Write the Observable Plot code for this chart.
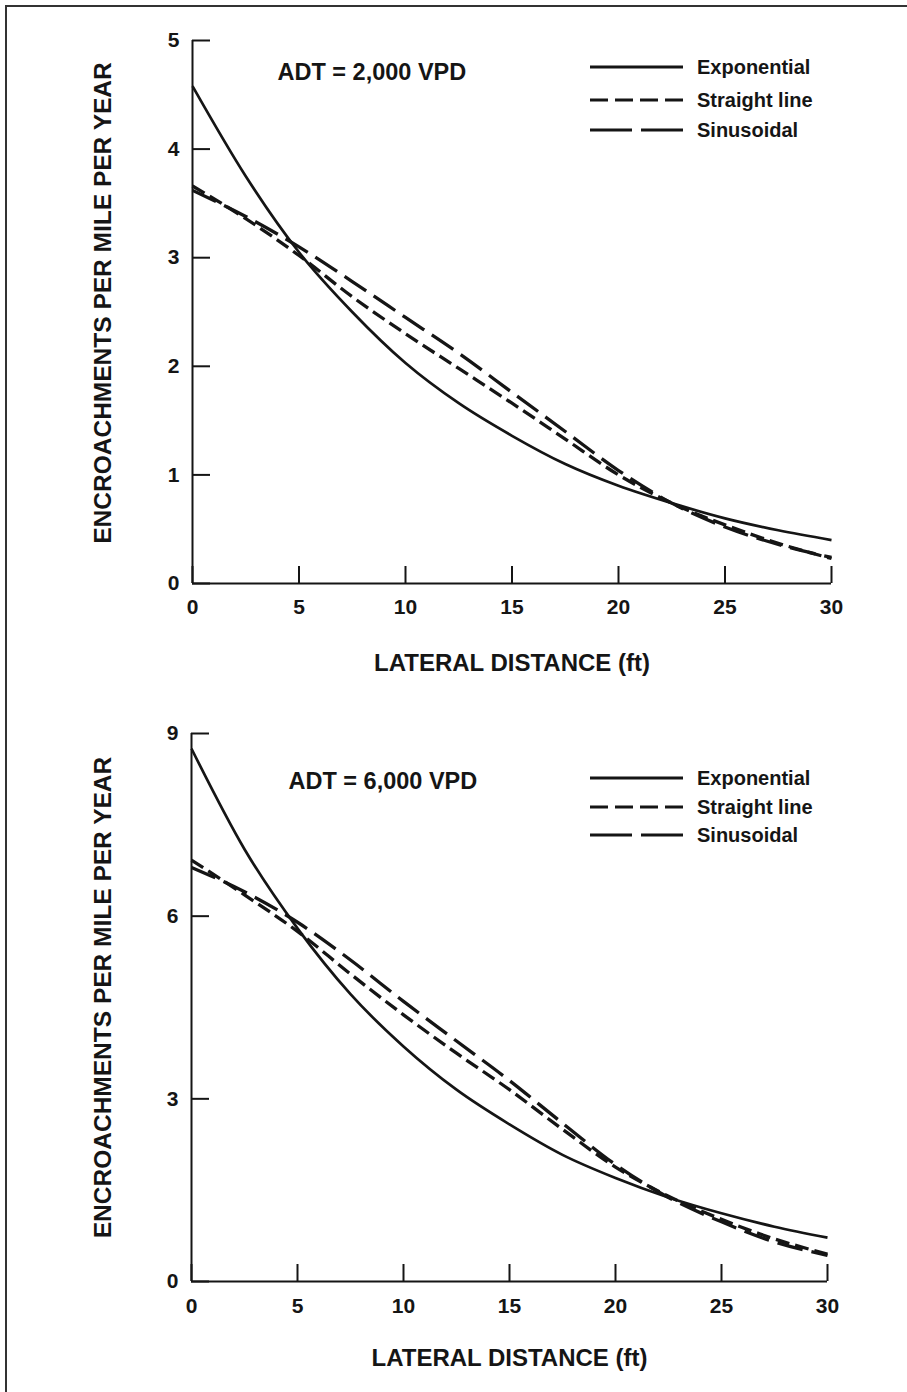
<!DOCTYPE html>
<html><head><meta charset="utf-8">
<script src="https://cdn.jsdelivr.net/npm/d3@7"></script>
<script src="https://cdn.jsdelivr.net/npm/@observablehq/plot@0.6"></script>
<style>
html,body{margin:0;padding:0;background:#fff;overflow:hidden;width:907px;height:1392px;}
#page{position:relative;width:907px;height:1392px;overflow:hidden;background:#fff;font-family:"Liberation Sans",Arial,sans-serif;}
#borderTop{position:absolute;left:5px;top:5px;width:902px;height:2px;background:#333;}
#borderLeft{position:absolute;left:5px;top:5px;width:2px;height:1387px;background:#333;}
.panel{position:absolute;left:0;}
#legend{position:absolute;left:0;top:0;}
</style></head><body><div id="page"><div id="borderTop"></div><div id="borderLeft"></div></div>
<script>
// ---- data ----
const distance = [0, 2.5, 5, 7.5, 10, 12.5, 15, 17.5, 20, 22.5, 25, 27.5, 30];
const seriesNames = ["Exponential", "Straight line", "Sinusoidal"];

const adt2000Exponential = [4.58, 3.75, 3.05, 2.50, 2.03, 1.66, 1.36, 1.10, 0.90, 0.74, 0.60, 0.49, 0.40];
const adt2000Straight    = [3.66, 3.36, 3.02, 2.64, 2.30, 1.98, 1.66, 1.33, 1.00, 0.74, 0.54, 0.37, 0.23];
const adt2000Sinusoidal  = [3.62, 3.38, 3.10, 2.78, 2.45, 2.12, 1.76, 1.40, 1.04, 0.74, 0.52, 0.36, 0.24];

const adt6000Exponential = [8.75, 7.10, 5.80, 4.72, 3.86, 3.15, 2.58, 2.08, 1.70, 1.38, 1.12, 0.90, 0.72];
const adt6000Straight    = [6.92, 6.35, 5.75, 5.05, 4.38, 3.75, 3.15, 2.50, 1.88, 1.40, 1.02, 0.70, 0.45];
const adt6000Sinusoidal  = [6.80, 6.40, 5.90, 5.28, 4.60, 3.95, 3.30, 2.60, 1.92, 1.38, 0.98, 0.65, 0.43];

const xTicks = [0, 5, 10, 15, 20, 25, 30];
const yTicks2000 = [0, 1, 2, 3, 4, 5];
const yTicks6000 = [0, 3, 6, 9];
const panelTitles = ["ADT = 2,000 VPD", "ADT = 6,000 VPD"];
const xLabel = "LATERAL DISTANCE (ft)";
const yLabel = "ENCROACHMENTS PER MILE PER YEAR";

// ---- styles ----
const ink = "#151515";
const FONT = "'Liberation Sans', Arial, Helvetica, sans-serif";
const lineStyle = {
  "Exponential":   {strokeWidth: 2.7, dash: null,   legendDash: null},
  "Straight line": {strokeWidth: 3.3, dash: "14,6", legendDash: "18,7"},
  "Sinusoidal":    {strokeWidth: 3.3, dash: "26,9", legendDash: "42,9"}
};

function makePanel(cfg) {
  const rows = [];
  cfg.values.forEach((vals, i) => vals.forEach((v, j) => rows.push({x: distance[j], v, s: seriesNames[i]})));
  const W = 900;
  const fw = W - cfg.ml - cfg.mr;
  const fh = cfg.height - cfg.mt - cfg.mb;
  const txt = {fontFamily: FONT, fontWeight: "bold", fill: ink};
  return Plot.plot({
    width: W, height: cfg.height,
    marginTop: cfg.mt, marginBottom: cfg.mb, marginLeft: cfg.ml, marginRight: cfg.mr,
    x: {domain: [0, 30]},
    y: {domain: [0, cfg.yMax]},
    style: {fontFamily: FONT, fontWeight: "bold", fontSize: "21px", color: ink, background: "transparent", overflow: "visible"},
    marks: [
      Plot.ruleY([0], {stroke: ink, strokeWidth: 2}),
      Plot.ruleX([0], {stroke: ink, strokeWidth: 2}),
      Plot.tickX(xTicks, {x: d => d, insetTop: fh - 17, stroke: ink, strokeWidth: 2}),
      Plot.tickY(cfg.yTicks, {y: d => d, insetRight: fw - 18, stroke: ink, strokeWidth: 2}),
      Plot.axisX({ticks: xTicks, tickSize: 0, tickPadding: cfg.xPad, tickFormat: d => String(d), label: null, fontSize: 21, ...txt}),
      Plot.axisY({ticks: cfg.yTicks, tickSize: 0, tickPadding: 13, tickFormat: d => String(d), label: null, fontSize: 21, ...txt}),
      ...seriesNames.map(s => Plot.line(rows.filter(r => r.s === s), {
        x: "x", y: "v", curve: "monotone-x", stroke: ink,
        strokeWidth: lineStyle[s].strokeWidth,
        strokeDasharray: lineStyle[s].dash,
        strokeLinecap: "butt"
      })),
      Plot.text([cfg.title], {frameAnchor: "top-left", textAnchor: "start", lineAnchor: "middle",
        dx: cfg.titleDx, dy: cfg.titleDy, fontSize: 23.5, ...txt}),
      Plot.text([xLabel], {frameAnchor: "bottom", textAnchor: "middle", lineAnchor: "middle",
        dy: cfg.xLabelDy, fontSize: 24, ...txt}),
      Plot.text([yLabel], {frameAnchor: "left", textAnchor: "middle", lineAnchor: "middle", rotate: -90,
        dx: cfg.yLabelDx, dy: cfg.yLabelDy, fontSize: 24.5, ...txt})
    ]
  });
}

const page = document.getElementById("page");

const p1 = makePanel({
  values: [adt2000Exponential, adt2000Straight, adt2000Sinusoidal],
  yMax: 5, yTicks: yTicks2000, title: panelTitles[0],
  height: 700, mt: 40, mb: 117, ml: 192, mr: 69, xPad: 16,
  titleDx: 85, titleDy: 32, xLabelDy: 80, yLabelDx: -89, yLabelDy: -9
});
p1.classList.add("panel"); p1.style.top = "0px";
page.appendChild(p1);

const p2 = makePanel({
  values: [adt6000Exponential, adt6000Straight, adt6000Sinusoidal],
  yMax: 9, yTicks: yTicks6000, title: panelTitles[1],
  height: 692, mt: 33, mb: 111, ml: 191, mr: 73, xPad: 17,
  titleDx: 97, titleDy: 48, xLabelDy: 77, yLabelDx: -88, yLabelDy: -10
});
p2.classList.add("panel"); p2.style.top = "700px";
page.appendChild(p2);

// ---- legends ----
const legendSvg = d3.select(page).append("svg").attr("id", "legend")
  .attr("width", 900).attr("height", 1392);
const legendRows = [[67, 100, 130], [778, 807, 835]];
legendRows.forEach(ys => {
  seriesNames.forEach((s, i) => {
    const g = legendSvg.append("g").attr("transform", `translate(0,${ys[i]})`);
    g.append("line").attr("x1", 590).attr("x2", 683).attr("y1", 0).attr("y2", 0)
      .attr("stroke", ink).attr("stroke-width", 3)
      .attr("stroke-dasharray", lineStyle[s].legendDash);
    g.append("text").attr("x", 697).attr("y", 0).attr("dy", "0.36em")
      .attr("font-family", FONT).attr("font-weight", "bold").attr("font-size", 20)
      .attr("fill", ink).text(s);
  });
});
</script>
</body></html>
